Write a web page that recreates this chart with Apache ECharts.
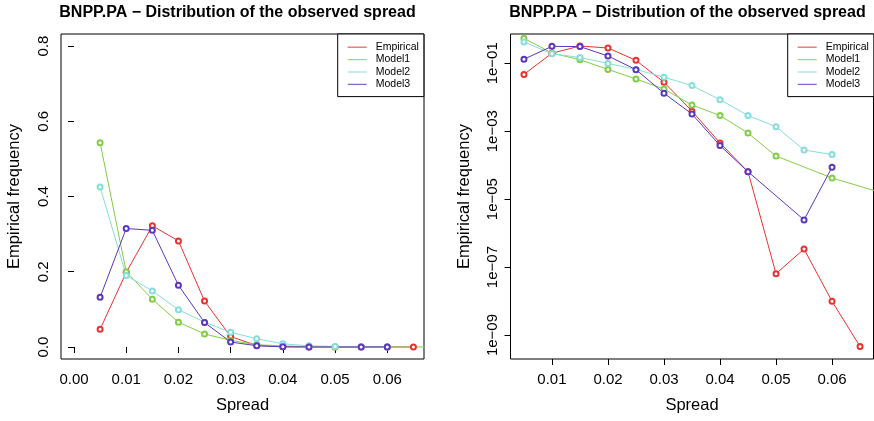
<!DOCTYPE html>
<html>
<head>
<meta charset="utf-8">
<script src="https://cdn.jsdelivr.net/npm/echarts@6/dist/echarts.min.js"></script>
<style>
html,body{margin:0;padding:0;background:#fff;}
#c{width:874px;height:421px;}
</style>
</head>
<body>
<div id="c"></div>
<script>
// ---- data ----
const seriesNames = ['Empirical', 'Model1', 'Model2', 'Model3'];
const empiricalX = [0.005, 0.01, 0.015, 0.02, 0.025, 0.03, 0.035, 0.04, 0.045, 0.05, 0.055, 0.06, 0.065];
const empirical  = [0.047, 0.198, 0.322, 0.282, 0.122, 0.0276, 0.0039, 0.00045, 6.4e-5, 6.4e-8, 3.4e-7, 9.8e-9, 4.6e-10];
const model1X = [0.005, 0.01, 0.015, 0.02, 0.025, 0.03, 0.035, 0.04, 0.045, 0.05, 0.06, 0.07];
const model1  = [0.543, 0.200, 0.127, 0.066, 0.0345, 0.0175, 0.0059, 0.0029, 0.00088, 0.000186, 4.2e-5, 1.35e-5];
const model2X = [0.005, 0.01, 0.015, 0.02, 0.025, 0.03, 0.035, 0.04, 0.045, 0.05, 0.055, 0.06];
const model2  = [0.425, 0.190, 0.149, 0.099, 0.066, 0.039, 0.022, 0.0085, 0.0029, 0.00136, 0.00028, 0.000205];
const model3X = [0.005, 0.01, 0.015, 0.02, 0.025, 0.03, 0.035, 0.04, 0.045, 0.055, 0.06];
const model3  = [0.132, 0.315, 0.310, 0.164, 0.065, 0.0131, 0.0032, 0.00038, 6.4e-5, 2.45e-6, 8.7e-5];

const leftXTicks  = [0, 0.01, 0.02, 0.03, 0.04, 0.05, 0.06];
const leftXLabels = ['0.00', '0.01', '0.02', '0.03', '0.04', '0.05', '0.06'];
const rightXTicks = [0.01, 0.02, 0.03, 0.04, 0.05, 0.06];
const leftYTicks  = [0, 0.2, 0.4, 0.6, 0.8];
const leftYLabels = ['0.0', '0.2', '0.4', '0.6', '0.8'];
const rightYTicks  = [1e-9, 1e-7, 1e-5, 1e-3, 1e-1];
const rightYLabels = ['1e\u221209', '1e\u221207', '1e\u221205', '1e\u221203', '1e\u221201'];

const titleText = 'BNPP.PA \u2212 Distribution of the observed spread';
const colors = ['#E8332E', '#82CD47', '#86DEDB', '#5B37C1'];

// ---- chart ----
const FONT = 'Liberation Sans, Arial, Helvetica, sans-serif';
const xs = [empiricalX, model1X, model2X, model3X];
const ys = [empirical, model1, model2, model3];
function pairs(i) { return xs[i].map((x, k) => [x, ys[i][k]]); }

function labelFrom(ticks, labels) {
  return function (v) {
    for (let i = 0; i < ticks.length; i++) {
      if (Math.abs(v - ticks[i]) < 1e-12 ||
          (v > 0 && ticks[i] > 0 && Math.abs(Math.log10(v) - Math.log10(ticks[i])) < 1e-6)) return labels[i];
    }
    return '';
  };
}

const axisTextStyle = { color: '#000', fontSize: 15, fontFamily: FONT };
const nameStyle = { color: '#000', fontSize: 16.5, fontFamily: FONT };

const grids = [
  { left: 61, top: 34, width: 363, height: 325, show: true, borderColor: '#000', borderWidth: 1, backgroundColor: 'transparent' },
  { left: 510.5, top: 34, width: 363, height: 325, show: true, borderColor: '#000', borderWidth: 1, backgroundColor: 'transparent' }
];

const tickStyle = { show: true, length: 6, lineStyle: { color: '#000', width: 1 } };

const xAxes = [
  { gridIndex: 0, type: 'value', min: -0.00249, max: 0.06703,
    name: 'Spread', nameLocation: 'middle', nameGap: 38, nameTextStyle: nameStyle,
    axisLine: { show: false }, splitLine: { show: false },
    axisTick: { ...tickStyle, customValues: leftXTicks },
    axisLabel: { margin: 13, ...axisTextStyle, customValues: leftXTicks, formatter: labelFrom(leftXTicks, leftXLabels) } },
  { gridIndex: 1, type: 'value', min: 0.0026, max: 0.0674,
    name: 'Spread', nameLocation: 'middle', nameGap: 38, nameTextStyle: nameStyle,
    axisLine: { show: false }, splitLine: { show: false },
    axisTick: { ...tickStyle, customValues: rightXTicks },
    axisLabel: { margin: 13, ...axisTextStyle, customValues: rightXTicks, formatter: v => v.toFixed(2) } }
];

const yAxes = [
  { gridIndex: 0, type: 'value', min: -0.032, max: 0.832,
    name: 'Empirical frequency', nameLocation: 'middle', nameGap: 38, nameTextStyle: nameStyle,
    axisLine: { show: false }, splitLine: { show: false },
    axisTick: { ...tickStyle, customValues: leftYTicks },
    axisLabel: { margin: 10, rotate: 90, ...axisTextStyle, customValues: leftYTicks, formatter: labelFrom(leftYTicks, leftYLabels) } },
  { gridIndex: 1, type: 'log', logBase: 10, min: Math.pow(10, -9.706), max: Math.pow(10, -0.138),
    name: 'Empirical frequency', nameLocation: 'middle', nameGap: 38, nameTextStyle: nameStyle,
    axisLine: { show: false }, splitLine: { show: false },
    axisTick: { ...tickStyle, customValues: rightYTicks },
    axisLabel: { margin: 10, rotate: 90, ...axisTextStyle, customValues: rightYTicks, formatter: labelFrom(rightYTicks, rightYLabels) } }
];

const series = [];
[0, 1].forEach(g => {
  seriesNames.forEach((n, i) => {
    series.push({
      name: n, type: 'line', xAxisIndex: g, yAxisIndex: g,
      data: pairs(i), clip: true, animation: false,
      symbol: 'emptyCircle', symbolSize: 5, showSymbol: true,
      lineStyle: { color: colors[i], width: 1 },
      itemStyle: { color: colors[i], borderColor: colors[i], borderWidth: 1 },
      emphasis: { disabled: true }
    });
  });
});

function legendAt(left) {
  return {
    left: left, top: 34, orient: 'vertical',
    backgroundColor: '#fff', borderColor: '#000', borderWidth: 1,
    padding: [7, 5, 6, 10], itemGap: 0, itemWidth: 19, itemHeight: 1.3,
    icon: 'rect', selectedMode: false,
    itemStyle: { borderWidth: 0 },
    lineStyle: { width: 0 },
    textStyle: { color: '#000', fontSize: 10.5, fontFamily: FONT, lineHeight: 12.4, padding: [0, 0, 0, 4] },
    data: seriesNames.map((n, i) => ({ name: n, itemStyle: { color: colors[i], opacity: 0.75, borderWidth: 0 } }))
  };
}

const titleStyle = { color: '#000', fontSize: 16, fontWeight: 'bold', fontFamily: FONT };
const option = {
  backgroundColor: '#fff',
  animation: false,
  title: [
    { text: titleText, left: 237.5, top: 5, textAlign: 'center', padding: 0, textStyle: titleStyle },
    { text: titleText, left: 687.5, top: 5, textAlign: 'center', padding: 0, textStyle: titleStyle }
  ],
  legend: [legendAt(337.7), legendAt(787.7)],
  grid: grids, xAxis: xAxes, yAxis: yAxes, series: series
};

const chart = echarts.init(document.getElementById('c'), null, { renderer: 'canvas' });
chart.setOption(option);
</script>
</body>
</html>
